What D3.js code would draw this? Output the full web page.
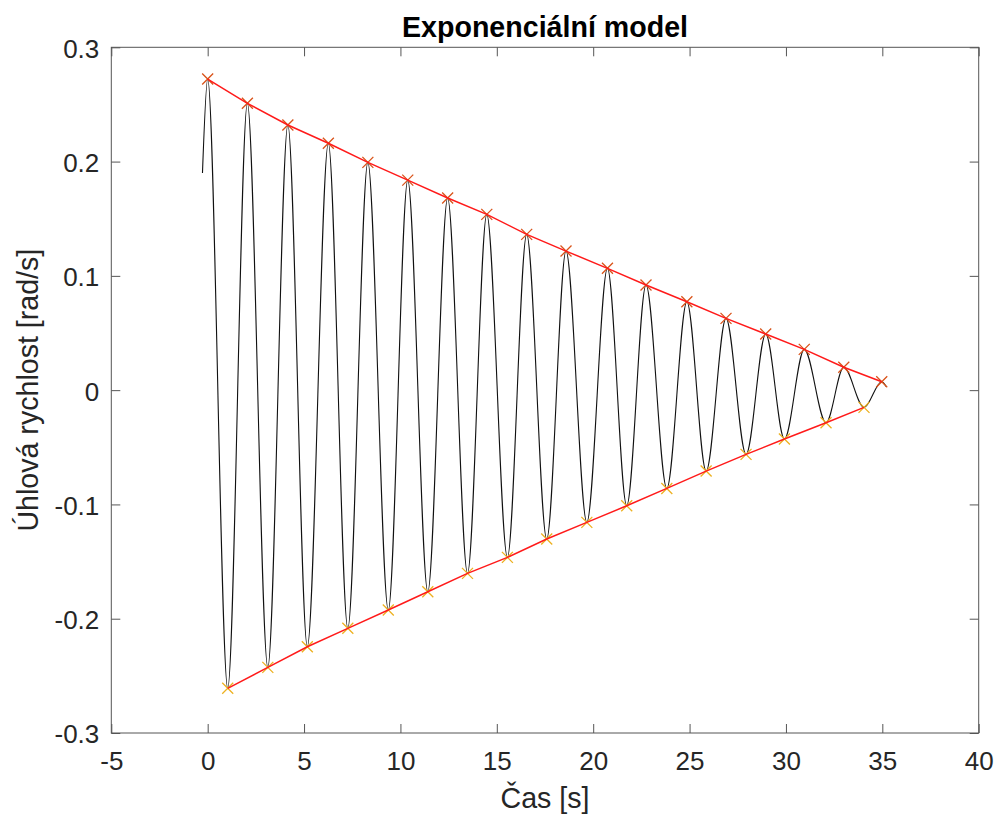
<!DOCTYPE html>
<html><head><meta charset="utf-8">
<script src="https://cdn.jsdelivr.net/npm/d3@7"></script>
<style>
body{margin:0;background:#fff}
text{font-family:"Liberation Sans",Arial,Helvetica,sans-serif}
</style>
</head><body>
<svg id="c" width="997" height="814"></svg>
<script>
// ---- data ----
const title = "Exponenciální model";
const xLabel = "Čas [s]";
const yLabel = "Úhlová rychlost [rad/s]";
const xTicks = [-5, 0, 5, 10, 15, 20, 25, 30, 35, 40];
const xTickLabels = ["-5", "0", "5", "10", "15", "20", "25", "30", "35", "40"];
const yTicks = [-0.3, -0.2, -0.1, 0, 0.1, 0.2, 0.3];
const yTickLabels = ["-0.3", "-0.2", "-0.1", "0", "0.1", "0.2", "0.3"];

// local maxima (upper markers)
const upperT = [0.0, 2.06, 4.16, 6.26, 8.31, 10.38, 12.45, 14.48, 16.55, 18.59, 20.74, 22.74, 24.86, 26.89, 28.95, 30.95, 33.0, 34.97];
const upperV = [0.2722, 0.2510, 0.2320, 0.2160, 0.1993, 0.1838, 0.1681, 0.1538, 0.1363, 0.1217, 0.1066, 0.0920, 0.0774, 0.0628, 0.0491, 0.0357, 0.0200, 0.0074];
// local minima (lower markers)
const lowerT = [1.04, 3.12, 5.17, 7.27, 9.37, 11.42, 13.48, 15.55, 17.59, 19.67, 21.74, 23.82, 25.86, 27.93, 29.92, 32.08, 34.05];
const lowerV = [-0.2609, -0.2426, -0.2245, -0.2084, -0.1924, -0.1764, -0.1603, -0.1463, -0.1303, -0.1157, -0.1012, -0.0860, -0.0708, -0.0562, -0.0428, -0.0285, -0.0151];
// signal start and end samples
const signalStart = [-0.27, 0.190];
const signalEnd = [35.21, 0.003];

// ---- chart ----
const W = 997, H = 814;
const L = 111.3, R = 978.7, T = 47.3, B = 733;
const fs = 26, fsTitle = 28.6;
const axisCol = "#262626", boxCol = "#555";

const svg = d3.select("#c");
svg.append("rect").attr("width", W).attr("height", H).attr("fill", "#fff");

const x = d3.scaleLinear().domain([-5, 40]).range([L, R]);
const y = d3.scaleLinear().domain([-0.3, 0.3]).range([B, T]);

const upper = upperT.map((t, i) => [t, upperV[i]]);
const lower = lowerT.map((t, i) => [t, lowerV[i]]);
const signal = [signalStart, ...upper.concat(lower).sort((a, b) => a[0] - b[0]), signalEnd];

const plot = svg.append("g");

// black signal
plot.append("path")
  .datum(signal)
  .attr("fill", "none").attr("stroke", "#111").attr("stroke-width", 1.1)
  .attr("d", d3.line().x(d => x(d[0])).y(d => y(d[1])).curve(d3.curveMonotoneX));

// markers
function cross(g, data, color) {
  const s = 5.5;
  g.selectAll(null).data(data).enter().append("path")
    .attr("fill", "none").attr("stroke", color).attr("stroke-width", 1.3)
    .attr("d", d => {
      const cx = x(d[0]), cy = y(d[1]);
      return `M${cx - s},${cy - s}L${cx + s},${cy + s}M${cx - s},${cy + s}L${cx + s},${cy - s}`;
    });
}
cross(plot, upper, "#D95319");
cross(plot, lower, "#EDB120");

// red envelope lines
const ln = d3.line().x(d => x(d[0])).y(d => y(d[1]));
plot.append("path").datum(upper).attr("fill", "none").attr("stroke", "#ff1a1a").attr("stroke-width", 1.5).attr("d", ln);
plot.append("path").datum(lower).attr("fill", "none").attr("stroke", "#ff1a1a").attr("stroke-width", 1.5).attr("d", ln);

// axes
function styleAxis(g) {
  g.select(".domain").remove();
  g.selectAll(".tick line").attr("stroke", boxCol).attr("stroke-width", 1);
  g.selectAll(".tick text").attr("fill", axisCol).attr("font-size", fs);
}
const xb = svg.append("g").attr("transform", `translate(0,${B})`)
  .call(d3.axisBottom(x).tickValues(xTicks).tickFormat((d, i) => xTickLabels[i]).tickSizeInner(-9).tickSizeOuter(0).tickPadding(19));
styleAxis(xb);
const xt = svg.append("g").attr("transform", `translate(0,${T})`)
  .call(d3.axisTop(x).tickValues(xTicks).tickFormat("").tickSizeInner(-9).tickSizeOuter(0));
styleAxis(xt);
const yl = svg.append("g").attr("transform", `translate(${L},0)`)
  .call(d3.axisLeft(y).tickValues(yTicks).tickFormat((d, i) => yTickLabels[i]).tickSizeInner(-9).tickSizeOuter(0).tickPadding(12));
styleAxis(yl);
yl.selectAll(".tick text").attr("dy", "0.38em");
const yr = svg.append("g").attr("transform", `translate(${R},0)`)
  .call(d3.axisRight(y).tickValues(yTicks).tickFormat("").tickSizeInner(-9).tickSizeOuter(0));
styleAxis(yr);

// box
svg.append("rect").attr("x", L).attr("y", T).attr("width", R - L).attr("height", B - T)
  .attr("fill", "none").attr("stroke", boxCol).attr("stroke-width", 1);

// title & labels
svg.append("text").attr("x", (L + R) / 2).attr("y", 37).attr("text-anchor", "middle")
  .attr("font-size", fsTitle).attr("font-weight", "bold").attr("fill", "#000").text(title);
svg.append("text").attr("x", (L + R) / 2).attr("y", 808).attr("text-anchor", "middle")
  .attr("font-size", fsTitle).attr("fill", axisCol).text(xLabel);
svg.append("text").attr("transform", `translate(37.5,${(T + B) / 2}) rotate(-90)`).attr("text-anchor", "middle")
  .attr("font-size", fsTitle).attr("fill", axisCol).text(yLabel);
</script>
</body></html>
